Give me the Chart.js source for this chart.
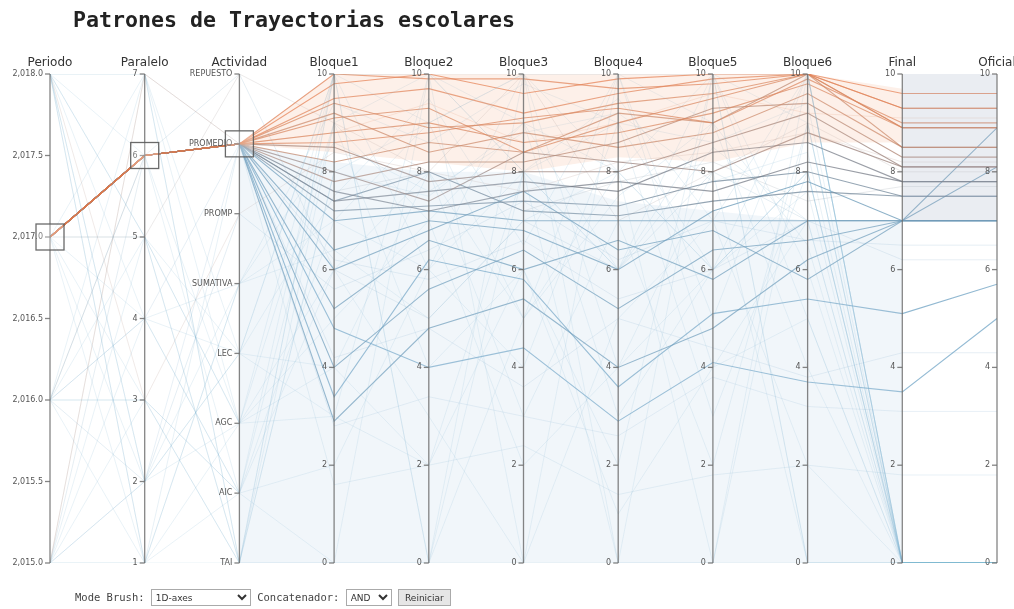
<!DOCTYPE html>
<html>
<head>
<meta charset="utf-8">
<script src="https://cdn.jsdelivr.net/npm/chart.js@4.4.1/dist/chart.umd.min.js"></script>
<style>
  body { margin: 0; background: #fff; font-family: "DejaVu Sans Mono", monospace; }
  #wrap { position: relative; width: 1014px; height: 609px; overflow: hidden; }
  #chart { position: absolute; left: 0; top: 0; }
  h1 { position: absolute; left: 73px; top: 7px; margin: 0; font-size: 21.6px; font-weight: bold;
       font-family: "DejaVu Sans Mono", monospace; color: #222; }
  #controls { position: absolute; left: 75px; top: 589px; font-size: 10.5px; color: #444; }
  #controls select, #controls button { font-family: "DejaVu Sans", sans-serif; font-size: 9px; height: 17px;
       vertical-align: middle; border: 1px solid #aaa; background: #fff; color: #333; }
  #controls button { background: #e6e6e6; }
</style>
</head>
<body>
<div id="wrap">
  <canvas id="chart" width="1014" height="609"></canvas>
  <h1>Patrones de Trayectorias escolares</h1>
  <div id="controls">
    Mode Brush: <select style="width:100px"><option>1D-axes</option></select>
    Concatenador: <select style="width:46px"><option>AND</option></select>
    <button>Reiniciar</button>
  </div>
</div>
<script>
const dims = ['Periodo', 'Paralelo', 'Actividad', 'Bloque1', 'Bloque2', 'Bloque3',
  'Bloque4', 'Bloque5', 'Bloque6', 'Final', 'Oficial'];
const actividades = ['TAI', 'AIC', 'AGC', 'LEC', 'SUMATIVA', 'PROMP', 'PROMEDIO', 'REPUESTO'];
const ticksPeriodo = [2015, 2015.5, 2016, 2016.5, 2017, 2017.5, 2018];
const ticksParalelo = [1, 2, 3, 4, 5, 6, 7];
const ticksNota = [0, 2, 4, 6, 8, 10];

// filas filtradas por el brush (2017 / 6 / PROMEDIO)
// periodo, paralelo, actividad, b1..b6, final, oficial
const seleccionados = [
  [2017, 6, 'PROMEDIO', 10, 9.9, 9.9, 9.7, 9.8, 10, 9.3, 9.3],
  [2017, 6, 'PROMEDIO', 9.5, 9.7, 9.2, 9.6, 9.9, 10, 9.3, 9.3],
  [2017, 6, 'PROMEDIO', 9.4, 8.9, 9.0, 9.4, 9.6, 10, 8.9, 8.9],
  [2017, 6, 'PROMEDIO', 9.1, 9.3, 8.4, 9.0, 9.5, 10, 8.9, 8.9],
  [2017, 6, 'PROMEDIO', 9.8, 10, 9.6, 9.9, 10, 10, 9.6, 9.6],
  [2017, 6, 'PROMEDIO', 8.6, 8.8, 9.1, 9.3, 9.0, 9.9, 9.0, 9.0],
  [2017, 6, 'PROMEDIO', 8.8, 9.0, 8.6, 8.8, 9.2, 9.8, 8.9, 8.9],
  [2017, 6, 'PROMEDIO', 8.2, 8.6, 8.4, 9.2, 9.0, 10, 8.5, 8.5],
  [2017, 6, 'PROMEDIO', 9.2, 8.4, 8.8, 8.5, 8.8, 9.6, 8.5, 8.5],
  [2017, 6, 'PROMEDIO', 7.8, 8.2, 8.2, 8.6, 9.3, 9.4, 8.3, 8.3],
  [2017, 6, 'PROMEDIO', 8.5, 7.8, 8.0, 8.0, 8.6, 9.2, 8.1, 8.1],
  [2017, 6, 'PROMEDIO', 8.0, 7.4, 8.4, 8.2, 8.0, 8.8, 8.1, 8.1],
  [2017, 6, 'PROMEDIO', 7.4, 7.6, 7.8, 7.6, 8.4, 8.6, 7.8, 7.8],
  [2017, 6, 'PROMEDIO', 7.6, 7.2, 7.6, 7.8, 7.6, 8.2, 7.8, 7.8],
  [2017, 6, 'PROMEDIO', 7.2, 7.3, 7.4, 7.3, 7.8, 8.0, 7.5, 7.5],
  [2017, 6, 'PROMEDIO', 7.4, 8.0, 7.2, 7.1, 7.4, 7.6, 7.5, 7.5],
  [2017, 6, 'PROMEDIO', 6.4, 7.0, 6.8, 6.0, 7.2, 7.8, 7.0, 7.0],
  [2017, 6, 'PROMEDIO', 5.2, 6.6, 6.0, 6.6, 5.8, 7.0, 7.0, 8.9],
  [2017, 6, 'PROMEDIO', 4.0, 5.6, 6.4, 5.2, 6.4, 6.6, 7.0, 8.1],
  [2017, 6, 'PROMEDIO', 2.9, 4.8, 5.4, 4.0, 4.8, 6.2, 7.0, 7.0],
  [2017, 6, 'PROMEDIO', 4.8, 4.0, 4.4, 2.9, 4.1, 3.7, 3.5, 5.0],
  [2017, 6, 'PROMEDIO', 3.4, 6.2, 5.8, 3.6, 5.1, 5.4, 5.1, 5.7],
  [2017, 6, 'PROMEDIO', 6.0, 6.8, 7.6, 6.4, 6.8, 5.8, 7.0, 7.0],
  [2017, 6, 'PROMEDIO', 7.0, 7.2, 7.0, 7.0, 7.0, 7.0, 7.0, 7.0]
];

// resto de filas (fuera del brush), se dibujan atenuadas
const fondo = [
  [2018, 7, 'TAI', 8.0, 7.5, 9.0, 6.0, 8.5, 7.0, 0, 0],
  [2018, 4, 'AIC', 9.0, 10, 8.0, 9.5, 7.0, 10, 0, 0],
  [2018, 2, 'AGC', 6.0, 8.0, 5.0, 7.5, 9.0, 6.5, 0, 0],
  [2018, 5, 'LEC', 10, 9.0, 10, 8.0, 10, 9.0, 0, 0],
  [2018, 1, 'SUMATIVA', 7.0, 6.0, 8.0, 9.0, 6.0, 8.0, 0, 0],
  [2018, 3, 'PROMP', 8.4, 8.0, 7.6, 8.2, 8.4, 8.8, 8.2, 8.2],
  [2017, 5, 'TAI', 0, 10, 0, 10, 5, 10, 0, 0],
  [2017, 5, 'REPUESTO', 9.0, 8.0, 10, 7.0, 8.0, 9.0, 8.0, 8.0],
  [2017, 3, 'AIC', 10, 0, 8, 0, 10, 0, 0, 0],
  [2017, 7, 'AGC', 5, 7, 9, 3, 6, 8, 0, 0],
  [2017, 2, 'LEC', 7.5, 9.5, 6.5, 10, 4.0, 7.0, 0, 0],
  [2016, 3, 'TAI', 10, 10, 9, 8, 0, 9, 0, 0],
  [2016, 3, 'AIC', 2, 6, 10, 4, 8, 0, 0, 0],
  [2016, 6, 'PROMEDIO', 7.6, 8.0, 7.2, 7.8, 8.2, 7.4, 7.7, 7.7],
  [2016, 4, 'SUMATIVA', 6.4, 5.0, 7.0, 8.0, 6.0, 7.6, 0, 0],
  [2016, 1, 'AGC', 9, 4, 6, 2, 10, 6, 0, 0],
  [2016, 7, 'LEC', 4, 8, 3, 7, 2, 9, 0, 0],
  [2016, 2, 'PROMP', 5.6, 6.4, 7.4, 6.2, 7.0, 6.6, 6.5, 6.5],
  [2015, 1, 'TAI', 8, 9, 10, 10, 9, 10, 0, 0],
  [2015, 1, 'AIC', 6, 3, 0, 5, 7, 2, 0, 0],
  [2015, 5, 'AGC', 10, 6, 4, 9, 3, 8, 0, 0],
  [2015, 4, 'LEC', 3, 2, 6, 1, 4, 5, 0, 0],
  [2015, 2, 'SUMATIVA', 8.6, 7.6, 8.8, 9.2, 7.8, 8.4, 0, 0],
  [2015, 7, 'PROMEDIO', 8.8, 9.4, 8.6, 9.0, 9.6, 9.2, 9.1, 9.1],
  [2015, 6, 'REPUESTO', 6, 5, 7, 6, 8, 7, 7.0, 7.0],
  [2018, 6, 'AIC', 0, 0, 0, 0, 0, 0, 0, 0],
  [2016, 5, 'TAI', 10, 0, 10, 0, 0, 10, 0, 0],
  [2015, 3, 'TAI', 0, 0, 5, 10, 10, 0, 0, 0],
  [2018, 7, 'PROMEDIO', 6.2, 5.8, 6.6, 5.4, 6.0, 7.0, 6.2, 6.2],
  [2017, 1, 'SUMATIVA', 9.4, 8.6, 9.8, 9.0, 8.6, 9.4, 0, 0],
  [2016, 6, 'AGC', 3, 10, 8, 6, 9, 4, 0, 0],
  [2018, 2, 'LEC', 10, 10, 10, 10, 10, 10, 0, 0],
  [2016, 4, 'PROMEDIO', 4.2, 4.8, 3.6, 5.0, 4.4, 3.8, 4.3, 4.3],
  [2015, 2, 'PROMEDIO', 2.8, 3.4, 3.0, 2.6, 3.8, 3.2, 3.1, 3.1],
  [2018, 1, 'PROMEDIO', 1.6, 2.0, 2.4, 1.4, 1.8, 2.0, 1.8, 1.8],
  [2017, 4, 'AIC', 7, 9, 5, 8, 6, 10, 0, 0],
  [2018, 5, 'AGC', 4, 2, 8, 6, 10, 5, 0, 0],
  [2015, 7, 'TAI', 9, 7, 2, 4, 6, 8, 0, 0]
];

// bandas sombreadas (limite inferior / superior, desde el eje indicado)
const bandaNaranjaInf = [6, 8.4, 8.2, 8.0, 8.3, 8.2, 8.6, 8.6];
const bandaNaranjaSup = [6, 10, 10, 10, 10, 10, 10, 9.7];
const bandaAzulInf = [0, 0, 0, 0, 0, 0, 0, 0];
const bandaAzulSup = [6, 8.2, 8.0, 8.0, 7.4, 7.2, 7.0, 7.0];
const bandaGrisInf = [7, 7];
const bandaGrisSup = [10, 10];

const dimMin = [2015, 1, 0, 0, 0, 0, 0, 0, 0, 0, 0];
const dimMax = [2018, 7, 7, 10, 10, 10, 10, 10, 10, 10, 10];

function norm(d, v) {
  if (d === 2 && typeof v === 'string') v = actividades.indexOf(v);
  return (v - dimMin[d]) / (dimMax[d] - dimMin[d]);
}

function colorNota(f, a) {
  const stops = [[0, [120, 172, 208]], [6.9, [95, 150, 185]], [7.8, [115, 120, 132]],
                 [8.6, [205, 128, 92]], [10, [235, 112, 60]]];
  let c = stops[stops.length - 1][1];
  for (let i = 0; i < stops.length - 1; i++) {
    if (f >= stops[i][0] && f <= stops[i + 1][0]) {
      const t = (f - stops[i][0]) / (stops[i + 1][0] - stops[i][0]);
      c = stops[i][1].map((v, k) => Math.round(v + t * (stops[i + 1][1][k] - v)));
      break;
    }
  }
  return 'rgba(' + c[0] + ',' + c[1] + ',' + c[2] + ',' + a + ')';
}

function linea(fila, alpha, ancho) {
  return {
    data: fila.map((v, d) => ({ x: d, y: norm(d, v) })),
    borderColor: colorNota(fila[9], alpha),
    borderWidth: ancho,
    pointRadius: 0,
    fill: false
  };
}

function banda(desde, inf, sup, color) {
  return [
    { data: inf.map((v, k) => ({ x: desde + k, y: norm(desde + k, v) })),
      borderWidth: 0, pointRadius: 0, fill: false },
    { data: sup.map((v, k) => ({ x: desde + k, y: norm(desde + k, v) })),
      borderWidth: 0, pointRadius: 0, fill: '-1', backgroundColor: color }
  ];
}

const datasets = [
  ...banda(2, bandaAzulInf, bandaAzulSup, 'rgba(185,210,230,0.2)'),
  ...banda(2, bandaNaranjaInf, bandaNaranjaSup, 'rgba(245,180,145,0.2)'),
  ...banda(9, bandaGrisInf, bandaGrisSup, 'rgba(170,182,205,0.25)'),
  ...fondo.map(f => linea(f, 0.16, 1)),
  ...seleccionados.map(f => linea(f, 0.72, 1.1))
];

const brushes = [
  { dim: 0, value: 2017 },
  { dim: 1, value: 6 },
  { dim: 2, value: 'PROMEDIO' }
];

const ejesPlugin = {
  id: 'ejes',
  afterDatasetsDraw(chart) {
    const ctx = chart.ctx;
    const xs = chart.scales.x, ys = chart.scales.y;
    const top = ys.getPixelForValue(1), bottom = ys.getPixelForValue(0);
    ctx.save();
    dims.forEach((name, d) => {
      const x = xs.getPixelForValue(d);
      ctx.strokeStyle = 'rgba(110,110,110,0.85)';
      ctx.lineWidth = 1.3;
      ctx.beginPath(); ctx.moveTo(x, top); ctx.lineTo(x, bottom); ctx.stroke();
      let ticks, labels;
      if (d === 0) { ticks = ticksPeriodo; labels = ticksPeriodo.map(v => v.toLocaleString('en-US', { minimumFractionDigits: 1 })); }
      else if (d === 1) { ticks = ticksParalelo; labels = ticksParalelo.map(String); }
      else if (d === 2) { ticks = actividades; labels = actividades; }
      else { ticks = ticksNota; labels = ticksNota.map(String); }
      ctx.font = '8px "DejaVu Sans"';
      ctx.fillStyle = '#555';
      ctx.textAlign = 'right';
      ctx.textBaseline = 'middle';
      ticks.forEach((t, k) => {
        const y = ys.getPixelForValue(norm(d, t));
        ctx.beginPath(); ctx.moveTo(x - 5, y); ctx.lineTo(x, y); ctx.stroke();
        ctx.fillText(labels[k], x - 7, y);
      });
      ctx.font = '12px "DejaVu Sans"';
      ctx.fillStyle = '#333';
      ctx.textAlign = 'center';
      ctx.textBaseline = 'alphabetic';
      ctx.fillText(name, x, top - 8);
    });
    brushes.forEach(b => {
      const x = xs.getPixelForValue(b.dim);
      const y = ys.getPixelForValue(norm(b.dim, b.value));
      ctx.fillStyle = 'rgba(255,255,255,0.25)';
      ctx.strokeStyle = 'rgba(90,90,90,0.9)';
      ctx.lineWidth = 1.3;
      ctx.fillRect(x - 14, y - 13, 28, 26);
      ctx.strokeRect(x - 14, y - 13, 28, 26);
    });
    ctx.restore();
  }
};

new Chart(document.getElementById('chart'), {
  type: 'line',
  data: { datasets: datasets },
  options: {
    responsive: false,
    animation: false,
    layout: { padding: { left: 50, right: 17, top: 74, bottom: 46 } },
    scales: {
      x: { type: 'linear', min: 0, max: 10, display: false },
      y: { type: 'linear', min: 0, max: 1, display: false }
    },
    plugins: { legend: { display: false }, tooltip: { enabled: false } },
    elements: { line: { tension: 0 } }
  },
  plugins: [ejesPlugin]
});
</script>
</body>
</html>
